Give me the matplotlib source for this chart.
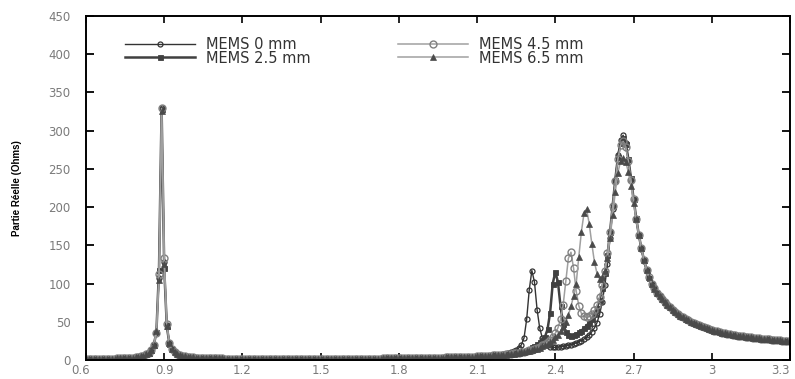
import numpy as np
import matplotlib
matplotlib.use("Agg")
import matplotlib.pyplot as plt
from matplotlib.transforms import ScaledTranslation

# ---------------- data ----------------
series_labels = ["MEMS 0 mm", "MEMS 2.5 mm", "MEMS 4.5 mm", "MEMS 6.5 mm"]
freq_start = 0.60   # GHz, first sample
freq_step = 0.01    # GHz between samples

# shared low band 0.60 - 0.85
low_band_1 = [1.2, 1.2, 1.3, 1.3, 1.4, 1.4, 1.5, 1.5, 1.6, 1.7,
              1.8, 1.9, 2.0, 2.1, 2.3, 2.4, 2.6, 2.9, 3.2, 3.6,
              4.1, 4.8, 5.8, 7.3, 9.6, 13.5]

# first resonance 0.86 - 0.93 (per series)
peak1_mems0 = [20, 37, 107, 330, 128, 46, 22, 14]
peak1_mems25 = [20, 36, 118, 328, 120, 44, 21, 14]
peak1_mems45 = [19, 35, 112, 329, 133, 47, 22, 14]
peak1_mems65 = [20, 38, 105, 326, 125, 45, 22, 14]

# shared band 0.94 - 2.19
low_band_2 = [10.0, 7.8, 6.4, 5.4, 4.7, 4.2,
              3.8, 3.5, 3.2, 3.0, 2.8, 2.7, 2.5, 2.4, 2.3, 2.2,
              2.1, 2.0, 2.0, 1.9, 1.9, 1.8, 1.8, 1.8, 1.7, 1.7,
              1.7, 1.7, 1.6, 1.6, 1.6, 1.6, 1.6, 1.5, 1.5, 1.5,
              1.5, 1.5, 1.5, 1.5, 1.5, 1.5, 1.5, 1.5, 1.5, 1.5,
              1.5, 1.5, 1.5, 1.5, 1.5, 1.5, 1.5, 1.5, 1.5, 1.5,
              1.5, 1.5, 1.5, 1.5, 1.5, 1.6, 1.6, 1.6, 1.6, 1.6,
              1.6, 1.6, 1.7, 1.7, 1.7, 1.7, 1.7, 1.8, 1.8, 1.8,
              1.8, 1.9, 1.9, 1.9, 2.0, 2.0, 2.0, 2.1, 2.1, 2.2,
              2.2, 2.3, 2.3, 2.4, 2.4, 2.5, 2.6, 2.6, 2.7, 2.8,
              2.9, 2.9, 3.0, 3.0, 3.1, 3.1, 3.2, 3.2, 3.3, 3.4,
              3.5, 3.6, 3.7, 3.8, 3.9, 4.0, 4.1, 4.2, 4.4, 4.5,
              4.7, 4.9, 5.1, 5.3, 5.5, 5.8, 6.0, 6.3, 6.6, 7.0]

# resonances 2.20 - 2.79 (per series)
mid_mems0 = [7.5, 8.1, 8.9, 9.9, 11.3, 13.3, 16, 20, 29, 53,
             92, 117, 102, 66, 42, 29, 22, 19, 17, 16.5,
             16.5, 16.8, 17.2, 17.7, 18.3, 19, 20, 21, 22.3, 23.8,
             25.5, 27.5, 30, 33, 37, 42, 49, 60, 76, 98,
             125, 160, 198, 236, 268, 288, 294, 284, 262, 236,
             209, 184, 163, 145, 130, 117, 107, 100, 94, 88]
mid_mems25 = [7.3, 7.7, 8.1, 8.6, 9.1, 9.7, 10.4, 11.2, 12.2, 13.4,
              14.8, 16.4, 18.3, 20.5, 23, 26, 30, 40, 62, 100,
              115, 102, 70, 47, 37, 33, 32, 32.5, 34, 36,
              38.5, 41.5, 45, 49, 54, 60, 68, 79, 94, 114,
              137, 168, 202, 236, 265, 284, 290, 283, 263, 238,
              211, 186, 164, 146, 131, 118, 107, 100, 94, 88]
mid_mems45 = [6.9, 7.3, 7.7, 8.1, 8.6, 9.1, 9.7, 10.3, 11, 11.8,
              12.7, 13.7, 14.8, 16.1, 17.6, 19.3, 21.3, 23.7, 26.5, 30,
              35, 42, 53, 72, 103, 133, 141, 120, 90, 71,
              61, 57, 56, 57, 60, 65, 72, 83, 98, 117,
              140, 168, 201, 234, 263, 281, 286, 279, 260, 236,
              210, 185, 164, 146, 131, 118, 108, 100, 94, 88]
mid_mems65 = [6.8, 7.1, 7.5, 7.9, 8.3, 8.8, 9.3, 9.9, 10.5, 11.2,
              12, 12.9, 13.9, 15, 16.3, 17.8, 19.5, 21.5, 23.8, 26.5,
              29.5, 33, 37.5, 43, 50, 59, 70, 84, 100, 135,
              168, 192, 197, 178, 152, 128, 113, 106, 108, 117,
              134, 160, 190, 220, 245, 260, 264, 259, 246, 228,
              206, 184, 164, 146, 131, 118, 108, 100, 93, 88]

# shared tail 2.80 - 3.30
tail_band = [84, 80, 76, 72.5, 69, 66, 63, 60.5, 58, 56,
             54, 52, 50, 48.5, 47, 45.5, 44, 42.8, 41.6, 40.5,
             39.4, 38.4, 37.5, 36.7, 35.9, 35.1, 34.4, 33.7, 33.1, 32.5,
             31.9, 31.4, 30.9, 30.4, 29.9, 29.5, 29.1, 28.7, 28.3, 27.9,
             27.6, 27.2, 26.9, 26.6, 26.3, 26.0, 25.7, 25.4, 25.1, 24.9,
             24.6]

x_ticks = [0.6, 0.9, 1.2, 1.5, 1.8, 2.1, 2.4, 2.7, 3.0, 3.3]
x_tick_labels = ["0.6", "0.9", "1.2", "1.5", "1.8", "2.1", "2.4", "2.7", "3", "3.3"]
y_ticks = [0, 50, 100, 150, 200, 250, 300, 350, 400, 450]

# ---------------- assemble ----------------
peaks = [peak1_mems0, peak1_mems25, peak1_mems45, peak1_mems65]
mids = [mid_mems0, mid_mems25, mid_mems45, mid_mems65]
series = []
for p, m in zip(peaks, mids):
    series.append(np.array(low_band_1 + p + low_band_2 + m + tail_band, dtype=float))
n = len(series[0])
freq = np.round(freq_start + freq_step * np.arange(n), 2)

styles = [
    dict(color="#333333", lw=1.0, marker="o", ms=3.6, mfc="none", mec="#333333", mew=0.9),
    dict(color="#404040", lw=1.8, marker="s", ms=3.6, mfc="#404040", mec="#404040", mew=0.6),
    dict(color="#a0a0a0", lw=1.1, marker="o", ms=5.0, mfc="none", mec="#808080", mew=1.0),
    dict(color="#a0a0a0", lw=1.1, marker="^", ms=4.0, mfc="#4a4a4a", mec="#4a4a4a", mew=0.5),
]

fig = plt.figure(figsize=(7.95, 3.79), dpi=100)
ax = fig.add_axes([86 / 795, 19 / 379, 704 / 795, 344 / 379])

handles = []
for y, lab, st in zip(series, series_labels, styles):
    h, = ax.plot(freq, y, label=lab, **st)
    handles.append(h)

ax.set_xlim(0.6, 3.3)
ax.set_ylim(0, 450)
ax.set_xticks(x_ticks)
ax.set_xticklabels(x_tick_labels)
ax.set_yticks(y_ticks)

for s in ax.spines.values():
    s.set_linewidth(1.4)
    s.set_color("black")

ax.tick_params(axis="y", which="both", direction="in", length=6, width=1.3,
               left=True, right=True, labelsize=8.5, labelcolor="#7a7a7a", pad=11)
ax.tick_params(axis="x", which="both", direction="in", length=5, width=1.2,
               bottom=True, top=True, labelsize=8.5, labelcolor="#7a7a7a", pad=3)

xl = ax.get_xticklabels()
xl[0].set_transform(xl[0].get_transform() + ScaledTranslation(-5 / 100, 0, fig.dpi_scale_trans))
xl[-1].set_transform(xl[-1].get_transform() + ScaledTranslation(-10 / 100, 0, fig.dpi_scale_trans))

ax.set_ylabel("Partie Réelle (Ohms)", fontsize=7, family="Liberation Sans",
              fontweight="bold", labelpad=19)

leg = ax.legend(handles=handles, ncol=2, loc="upper left",
                bbox_to_anchor=(39 / 704, 1 - 21 / 344), frameon=False,
                fontsize=10.5, handlelength=4.8, handletextpad=0.75,
                columnspacing=6.0, labelspacing=-0.1, borderpad=0, borderaxespad=0,
                numpoints=1)
for t in leg.get_texts():
    t.set_color("#333333")

fig.savefig("out.png", dpi=100)
